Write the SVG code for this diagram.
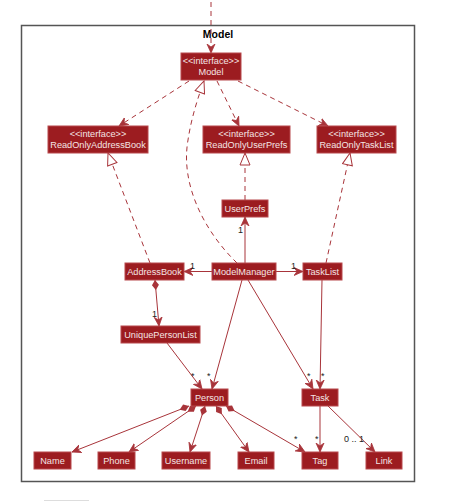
<svg xmlns="http://www.w3.org/2000/svg" width="454" height="501" viewBox="0 0 454 501">
<style>
.box{fill:#9c1c20;stroke:#b8484c;stroke-width:1}
.t{font-family:"Liberation Sans",Arial,sans-serif;font-size:9.2px;fill:#f4e4e4;text-anchor:middle}
.ln{fill:none;stroke:#a8343a;stroke-width:1}
.d{stroke-dasharray:5,4}
.lbl{font-family:"Liberation Sans",Arial,sans-serif;font-size:9px;fill:#222}
</style>
<defs>
<marker id="arr" viewBox="0 0 10 10" refX="9" refY="5" markerWidth="10" markerHeight="10" markerUnits="userSpaceOnUse" orient="auto">
<path d="M0,1 L9,5 L0,9 L3,5 Z" fill="#a8343a" stroke="#a8343a" stroke-width="0.8"/>
</marker>
<marker id="tri" viewBox="0 0 14 12" refX="13" refY="6" markerWidth="14" markerHeight="12" markerUnits="userSpaceOnUse" orient="auto">
<path d="M1,1 L13,6 L1,11 Z" fill="#fff" stroke="#a8343a" stroke-width="1"/>
</marker>
<marker id="dia" viewBox="0 0 12 8" refX="0.5" refY="4" markerWidth="12" markerHeight="8" markerUnits="userSpaceOnUse" orient="auto">
<path d="M0.5,4 L5.5,0.5 L10.5,4 L5.5,7.5 Z" fill="#a8343a"/>
</marker>
</defs>
<rect x="0" y="0" width="454" height="501" fill="#fff"/>
<g id="frame">
<rect x="21.5" y="25.5" width="393" height="456" fill="none" stroke="#555" stroke-width="1.5"/>
<text x="218" y="38" font-family="'Liberation Sans',Arial,sans-serif" font-size="10.5" font-weight="bold" text-anchor="middle" fill="#000">Model</text>
</g>
<line x1="44" y1="500.5" x2="89" y2="500.5" stroke="#ddd" stroke-width="1"/>
<g id="connectors">
<line class="ln d" x1="211" y1="2" x2="211" y2="53" marker-end="url(#arr)"/>
<line class="ln d" x1="189" y1="81" x2="119" y2="126" marker-end="url(#arr)"/>
<line class="ln d" x1="217" y1="81" x2="239" y2="126" marker-end="url(#arr)"/>
<line class="ln d" x1="238" y1="81" x2="328" y2="126" marker-end="url(#arr)"/>
<path class="ln d" d="M237,263 C205,232 180,185 188,140 C191,120 197,100 204,81" marker-end="url(#tri)"/>
<line class="ln d" x1="150" y1="263" x2="108" y2="153" marker-end="url(#tri)"/>
<line class="ln d" x1="245" y1="200" x2="245" y2="153" marker-end="url(#tri)"/>
<line class="ln d" x1="326" y1="263" x2="350" y2="153" marker-end="url(#tri)"/>
<line class="ln" x1="245" y1="263" x2="245" y2="217" marker-end="url(#arr)"/>
<line class="ln" x1="212" y1="271.5" x2="184" y2="271.5" marker-end="url(#arr)"/>
<line class="ln" x1="276" y1="271.5" x2="303" y2="271.5" marker-end="url(#arr)"/>
<line class="ln" x1="155" y1="280" x2="159" y2="326" marker-start="url(#dia)" marker-end="url(#arr)"/>
<line class="ln" x1="167" y1="343" x2="202" y2="389" marker-end="url(#arr)"/>
<line class="ln" x1="242" y1="280" x2="212" y2="389" marker-end="url(#arr)"/>
<line class="ln" x1="248" y1="280" x2="313" y2="389" marker-end="url(#arr)"/>
<line class="ln" x1="322" y1="280" x2="320" y2="389" marker-end="url(#arr)"/>
<line class="ln" x1="189" y1="406" x2="72" y2="452" marker-start="url(#dia)" marker-end="url(#arr)"/>
<line class="ln" x1="196" y1="406" x2="129" y2="452" marker-start="url(#dia)" marker-end="url(#arr)"/>
<line class="ln" x1="205" y1="406" x2="190" y2="452" marker-start="url(#dia)" marker-end="url(#arr)"/>
<line class="ln" x1="216" y1="406" x2="249" y2="452" marker-start="url(#dia)" marker-end="url(#arr)"/>
<line class="ln" x1="226" y1="406" x2="305" y2="452" marker-start="url(#dia)" marker-end="url(#arr)"/>
<line class="ln" x1="320" y1="406" x2="320" y2="452" marker-end="url(#arr)"/>
<line class="ln" x1="328" y1="406" x2="375" y2="452" marker-end="url(#arr)"/>
<text class="lbl" x="238" y="233">1</text>
<text class="lbl" x="190" y="269">1</text>
<text class="lbl" x="291" y="269">1</text>
<text class="lbl" x="152" y="317">1</text>
<text class="lbl" x="191" y="379">*</text>
<text class="lbl" x="207" y="379">*</text>
<text class="lbl" x="307" y="379">*</text>
<text class="lbl" x="321" y="379">*</text>
<text class="lbl" x="294" y="442">*</text>
<text class="lbl" x="315" y="442">*</text>
<text class="lbl" x="344" y="442" fill="#777">0 .. 1</text>
</g>
<g id="Model"><rect class="box" x="181" y="53" width="60" height="27"/><text class="t" x="211" y="64">&lt;&lt;interface&gt;&gt;</text><text class="t" x="211" y="75">Model</text></g>
<g id="ReadOnlyAddressBook"><rect class="box" x="48" y="126" width="100" height="27"/><text class="t" x="98" y="137">&lt;&lt;interface&gt;&gt;</text><text class="t" x="98" y="148">ReadOnlyAddressBook</text></g>
<g id="ReadOnlyUserPrefs"><rect class="box" x="203" y="126" width="87" height="27"/><text class="t" x="246.5" y="137">&lt;&lt;interface&gt;&gt;</text><text class="t" x="246.5" y="148">ReadOnlyUserPrefs</text></g>
<g id="ReadOnlyTaskList"><rect class="box" x="317" y="126" width="79" height="27"/><text class="t" x="356.5" y="137">&lt;&lt;interface&gt;&gt;</text><text class="t" x="356.5" y="148">ReadOnlyTaskList</text></g>
<g id="UserPrefs"><rect class="box" x="222" y="200" width="46" height="17"/><text class="t" x="245" y="211.5">UserPrefs</text></g>
<g id="AddressBook"><rect class="box" x="125" y="263" width="59" height="17"/><text class="t" x="154.5" y="274.5">AddressBook</text></g>
<g id="ModelManager"><rect class="box" x="212" y="263" width="64" height="17"/><text class="t" x="244" y="274.5">ModelManager</text></g>
<g id="TaskList"><rect class="box" x="303" y="263" width="39" height="17"/><text class="t" x="322.5" y="274.5">TaskList</text></g>
<g id="UniquePersonList"><rect class="box" x="121" y="326" width="79" height="17"/><text class="t" x="160.5" y="337.5">UniquePersonList</text></g>
<g id="Person"><rect class="box" x="191" y="389" width="37" height="17"/><text class="t" x="209.5" y="400.5">Person</text></g>
<g id="Task"><rect class="box" x="302" y="389" width="36" height="17"/><text class="t" x="320" y="400.5">Task</text></g>
<g id="Name"><rect class="box" x="34" y="452" width="37" height="17"/><text class="t" x="52.5" y="463.5">Name</text></g>
<g id="Phone"><rect class="box" x="98" y="452" width="37" height="17"/><text class="t" x="116.5" y="463.5">Phone</text></g>
<g id="Username"><rect class="box" x="162" y="452" width="48" height="17"/><text class="t" x="186" y="463.5">Username</text></g>
<g id="Email"><rect class="box" x="238" y="452" width="36" height="17"/><text class="t" x="256" y="463.5">Email</text></g>
<g id="Tag"><rect class="box" x="302" y="452" width="36" height="17"/><text class="t" x="320" y="463.5">Tag</text></g>
<g id="Link"><rect class="box" x="366" y="452" width="36" height="17"/><text class="t" x="384" y="463.5">Link</text></g>
</svg>
